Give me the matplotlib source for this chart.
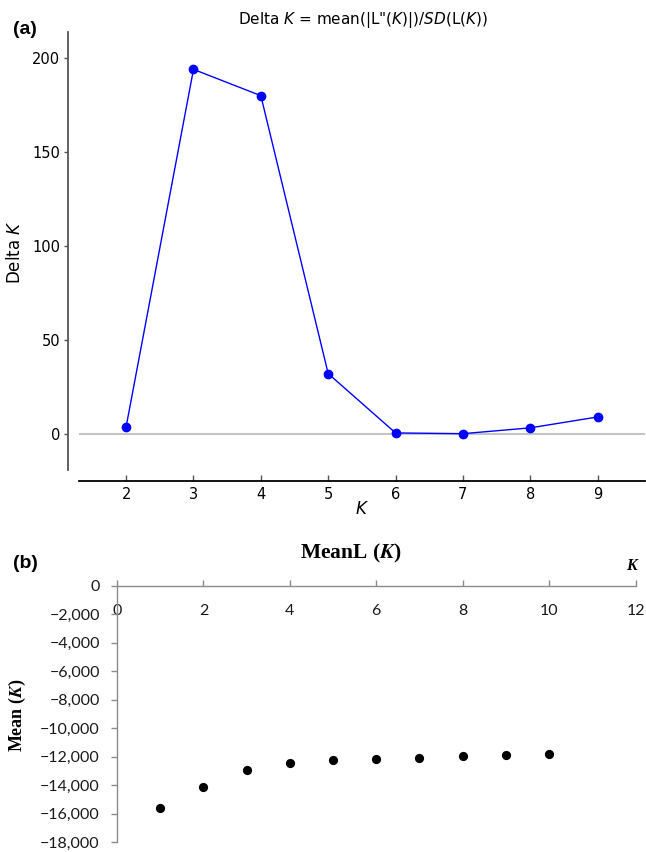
import matplotlib
matplotlib.use("Agg")
import matplotlib.pyplot as plt

# ---------------- data ----------------
k_delta = [2, 3, 4, 5, 6, 7, 8, 9]
delta_k = [3.7, 194.0, 180.0, 32.0, 0.4, 0.0, 3.1, 8.9]
delta_yticks = [0, 50, 100, 150, 200]

k_mean = [1, 2, 3, 4, 5, 6, 7, 8, 9, 10]
mean_l = [-15620, -14145, -12955, -12420, -12255, -12185, -12070, -11975, -11905, -11790]
mean_xticks = [0, 2, 4, 6, 8, 10, 12]
mean_yticks = [0, -2000, -4000, -6000, -8000, -10000, -12000, -14000, -16000, -18000]

W, H = 646, 852
fig = plt.figure(figsize=(W / 100, H / 100), dpi=100)

# ---------------- panel (a) ----------------
ax1 = fig.add_axes([79 / W, 1 - 470.3 / H, 565.7 / W, 438.3 / H])
ax1.axhline(0, color="#c4c4c4", lw=1.5, zorder=0)
ax1.plot(k_delta, delta_k, color="#0000ff", lw=1.0, marker="o", ms=6, zorder=3)
ax1.set_xlim(1.3, 9.7)
ax1.set_ylim(-19.5, 213.9)
ax1.set_xticks(k_delta)
ax1.set_yticks(delta_yticks)
for s in ("top", "right"):
    ax1.spines[s].set_visible(False)
ax1.spines["left"].set_position(("outward", 8))
ax1.spines["bottom"].set_position(("outward", 8))
ax1.spines["left"].set_color("#555555")
ax1.spines["left"].set_linewidth(1.3)
ax1.spines["bottom"].set_color("#000000")
ax1.spines["bottom"].set_linewidth(1.3)
ax1.tick_params(axis="x", direction="in", length=4, width=1, color="#555555",
                labelsize=10.5, pad=4)
ax1.tick_params(axis="y", direction="out", length=3, width=1, color="#555555",
                labelsize=10.5, pad=2.5)
ax1.set_ylabel("Delta $K$", fontsize=12)
ax1.yaxis.set_label_coords((24 - 79) / 565.7, (470.3 - 252) / 438.3)
ax1.set_xlabel("$K$", fontsize=12)
ax1.xaxis.set_label_coords(0.5, (470.3 - 500) / 438.3)
fig.text(363 / W, 1 - 20 / H, 'Delta $K$ = mean(|L"($K$)|)/$SD$(L($K$))',
         ha="center", va="center", fontsize=11)
fig.text(13 / W, 1 - 29.5 / H, "(a)", ha="left", va="center", fontsize=14,
         fontweight="bold", family="Liberation Sans")

# ---------------- panel (b) ----------------
ax2 = fig.add_axes([117 / W, 1 - 842.3 / H, 518.5 / W, 256.8 / H])
ax2.scatter(k_mean, mean_l, s=44, color="black", zorder=3, linewidths=0)
ax2.set_xlim(0, 12)
ax2.set_ylim(-18000, 0)
ax2.set_xticks(mean_xticks)
ax2.set_yticks(mean_yticks)
ax2.set_yticklabels([f"{v:,}".replace("-", "\u2212") for v in mean_yticks])
for s in ("top", "right"):
    ax2.spines[s].set_visible(False)
ax2.spines["bottom"].set_position(("data", 0))
for s in ("left", "bottom"):
    ax2.spines[s].set_color("#8c8c8c")
    ax2.spines[s].set_linewidth(1.0)
ax2.tick_params(axis="x", direction="in", length=4, width=1, color="#8c8c8c",
                labelsize=11.5, pad=13, labelcolor="#1a1a1a")
ax2.tick_params(axis="y", direction="out", length=4, width=1, color="#8c8c8c",
                labelsize=11.5, pad=8.4, labelcolor="#1a1a1a")
for lab in ax2.get_xticklabels() + ax2.get_yticklabels():
    lab.set_family("Lato")
ax2.set_ylabel(r"Mean ($\mathbfit{K}$)", fontsize=13, fontweight="bold",
               family="Liberation Serif", math_fontfamily="stix")
ax2.yaxis.set_label_coords((28 - 117) / 518.5, (842.3 - 715) / 256.8)
fig.text(351.5 / W, 1 - 553 / H, r"MeanL ($\mathbfit{K}$)", ha="center", va="center",
         fontsize=15.5, fontweight="bold", family="Liberation Serif",
         math_fontfamily="stix")
fig.text(631.5 / W, 1 - 566.5 / H, "K", ha="center", va="center", fontsize=11.5,
         fontweight="bold", style="italic", family="Liberation Serif")
fig.text(13 / W, 1 - 564 / H, "(b)", ha="left", va="center", fontsize=14,
         fontweight="bold", family="Liberation Sans")

fig.savefig("out.png", dpi=100)
